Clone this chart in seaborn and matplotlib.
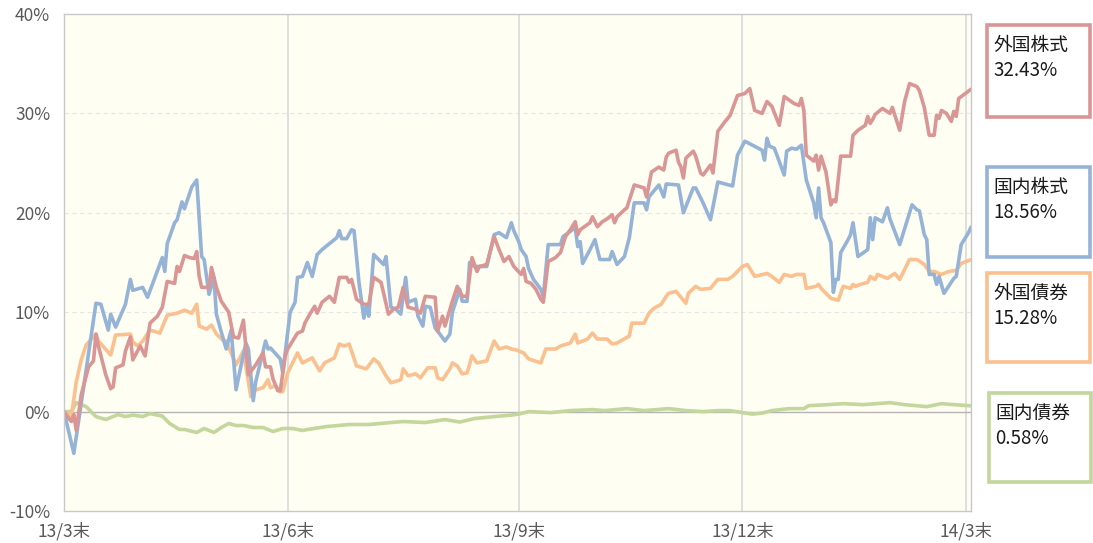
import matplotlib
matplotlib.use("Agg")
import matplotlib.pyplot as plt
import pandas as pd
import seaborn as sns
from matplotlib.patches import Rectangle

# ---------------- data ----------------
start_date = "2013-03-29"
series_names = ["外国株式", "国内株式", "外国債券", "国内債券"]
final_labels = ["32.43%", "18.56%", "15.28%", "0.58%"]
tick_dates = ["2013-03-29", "2013-06-28", "2013-09-30", "2013-12-30", "2014-03-31"]
tick_labels = ["13/3末", "13/6末", "13/9末", "13/12末", "14/3末"]
y_ticks = [-10, 0, 10, 20, 30, 40]

# 外国株式 (days since start, cumulative return %)
days_foreign_stock = [0, 2, 3, 4, 5, 7, 10, 12, 13, 14, 17, 19, 20, 21, 24, 25, 27, 28, 31, 33,
                      35, 38, 40, 42, 45, 46, 47, 49, 51, 53, 54, 55, 56, 59, 60, 62, 64, 67, 69, 71,
                      73, 75, 78, 81, 82, 84, 85, 87, 88, 90, 91, 95, 97, 98, 100, 102, 103, 105, 108, 110,
                      111, 112, 115, 116, 117, 119, 122, 124, 126, 129, 132, 134, 136, 138, 140, 143, 145, 147, 151, 152,
                      154, 155, 158, 160, 162, 164, 166, 168, 169, 172, 175, 177, 179, 181, 183, 186, 187, 188, 190, 192,
                      194, 195, 197, 200, 202, 204, 206, 208, 209, 210, 214, 215, 217, 219, 221, 223, 224, 225, 228, 229,
                      232, 236, 237, 239, 242, 244, 245, 246, 249, 250, 251, 252, 253, 256, 257, 259, 260, 263, 264, 266,
                      269, 271, 274, 277, 279, 281, 284, 286, 288, 291, 293, 297, 299, 300, 301, 302, 305, 306, 307, 308,
                      310, 312, 313, 314, 316, 320, 321, 323, 326, 327, 328, 329, 330, 333, 336, 337, 340, 342, 344, 347,
                      348, 350, 352, 354, 355, 356, 357, 359, 361, 362, 363, 364, 369]
vals_foreign_stock = [0.0, -0.7, -1.0, -0.3, -1.9, 1.7, 4.5, 5.1, 7.8, 6.6, 3.7, 2.3, 2.5, 4.4, 4.7, 6.1, 7.5, 5.2, 6.6, 5.6,
                      8.9, 9.6, 10.5, 13.1, 12.9, 14.6, 14.1, 15.7, 15.5, 15.4, 16.1, 13.6, 12.5, 12.5, 14.5, 12.5, 11.1, 10.0, 7.5, 7.4,
                      9.2, 3.7, 4.7, 5.9, 4.5, 4.5, 3.3, 2.1, 2.1, 5.6, 6.3, 7.9, 8.1, 8.9, 9.8, 10.6, 9.9, 11.0, 11.6, 11.0,
                      12.3, 13.5, 13.5, 13.0, 13.3, 11.3, 10.8, 10.8, 13.5, 13.0, 9.8, 10.3, 10.5, 12.5, 10.5, 10.3, 9.9, 11.6, 11.5, 8.1,
                      9.6, 8.6, 11.1, 12.6, 11.6, 11.6, 15.5, 14.1, 14.6, 14.8, 17.6, 16.3, 15.1, 15.6, 14.6, 13.8, 14.4, 13.1, 12.9, 12.3,
                      11.3, 11.0, 15.1, 15.5, 16.0, 17.6, 18.3, 19.1, 17.8, 18.3, 19.0, 19.6, 18.6, 19.1, 19.4, 19.8, 19.0, 19.6, 20.3, 20.5,
                      22.8, 22.5, 21.6, 24.1, 24.6, 24.3, 25.6, 26.0, 26.3, 25.1, 24.6, 23.5, 25.5, 26.2, 25.7, 24.0, 23.8, 24.8, 24.0, 28.2,
                      29.2, 29.8, 31.8, 32.0, 32.5, 30.3, 30.0, 31.2, 30.7, 28.8, 31.7, 31.0, 30.8, 31.5, 30.3, 25.8, 25.2, 25.8, 24.3, 25.7,
                      24.1, 20.8, 21.3, 21.1, 25.7, 25.7, 27.8, 28.3, 28.8, 29.7, 29.0, 29.4, 29.9, 30.5, 30.0, 30.6, 28.3, 31.2, 33.0, 32.7,
                      32.3, 30.6, 27.8, 27.8, 29.8, 29.5, 30.3, 30.0, 29.2, 30.2, 29.7, 31.5, 32.43]

# 国内株式
days_domestic_stock = [0, 4, 13, 15, 18, 19, 21, 25, 27, 28, 32, 34, 40, 41, 42, 45, 46, 48, 49, 52,
                       54, 56, 57, 59, 61, 62, 64, 66, 68, 70, 72, 74, 75, 77, 78, 82, 83, 84, 88, 89,
                       92, 94, 95, 97, 99, 101, 103, 105, 111, 112, 113, 115, 117, 118, 120, 122, 123, 124, 126, 128,
                       130, 131, 133, 135, 137, 139, 140, 143, 144, 146, 147, 149, 151, 152, 155, 157, 158, 161, 162, 164,
                       165, 167, 172, 175, 177, 180, 182, 183, 185, 186, 188, 189, 191, 194, 195, 197, 202, 203, 208, 209,
                       210, 211, 214, 216, 218, 222, 223, 225, 228, 230, 232, 236, 237, 238, 242, 244, 245, 250, 252, 256,
                       257, 260, 263, 266, 272, 274, 277, 284, 285, 286, 287, 289, 293, 294, 296, 298, 300, 302, 305, 306,
                       307, 308, 309, 312, 313, 314, 315, 316, 319, 320, 321, 323, 327, 328, 329, 330, 333, 335, 336, 340,
                       345, 347, 348, 350, 351, 352, 354, 355, 356, 358, 362, 363, 365, 368, 369]
vals_domestic_stock = [0.0, -4.2, 10.9, 10.8, 8.2, 9.8, 8.5, 10.8, 13.3, 12.2, 12.5, 11.5, 15.5, 14.1, 16.9, 19.0, 19.3, 21.1, 20.4, 22.6,
                       23.3, 15.6, 15.3, 11.8, 13.5, 9.8, 8.0, 6.3, 8.2, 2.2, 4.6, 6.9, 6.3, 1.1, 3.0, 7.1, 6.3, 6.4, 5.3, 3.9,
                       10.0, 11.0, 13.5, 13.6, 15.0, 13.6, 15.8, 16.3, 17.5, 18.2, 17.4, 17.4, 18.3, 18.2, 13.0, 9.4, 10.6, 9.6, 15.8, 15.3,
                       14.8, 15.6, 10.5, 10.3, 9.8, 13.5, 11.0, 11.3, 9.6, 8.6, 10.6, 10.5, 8.4, 8.1, 7.1, 7.8, 10.0, 12.3, 11.1, 11.1,
                       15.0, 14.6, 14.6, 17.8, 18.0, 17.5, 19.0, 18.2, 17.1, 16.3, 15.6, 14.4, 13.3, 12.3, 11.6, 16.8, 16.8, 17.6, 18.5, 16.6,
                       17.1, 14.9, 16.3, 17.3, 15.3, 15.3, 16.1, 14.8, 15.6, 17.5, 21.0, 21.0, 20.3, 21.6, 22.8, 21.6, 22.9, 22.8, 20.0, 22.5,
                       22.5, 21.0, 19.3, 23.1, 22.7, 25.8, 27.2, 26.3, 25.3, 27.5, 26.7, 26.5, 23.8, 26.2, 26.5, 26.4, 26.8, 23.3, 21.0, 19.5,
                       22.5, 19.5, 19.0, 17.0, 12.0, 13.3, 13.3, 16.0, 17.3, 17.8, 19.0, 15.6, 16.3, 19.5, 17.3, 19.5, 19.1, 20.5, 19.4, 16.8,
                       20.8, 20.3, 20.2, 17.8, 17.3, 13.8, 13.8, 12.8, 13.6, 11.9, 13.4, 13.6, 16.8, 18.0, 18.56]

# 外国債券
days_foreign_bond = [0, 3, 5, 7, 9, 13, 14, 19, 21, 27, 28, 30, 32, 35, 39, 42, 46, 49, 52, 54,
                     55, 58, 60, 62, 65, 66, 70, 73, 76, 78, 81, 83, 84, 86, 88, 89, 91, 93, 95, 97,
                     101, 104, 106, 110, 112, 114, 116, 117, 119, 123, 126, 128, 131, 133, 137, 138, 140, 143, 145, 148,
                     151, 152, 154, 157, 158, 160, 162, 164, 166, 168, 172, 173, 175, 177, 180, 182, 184, 187, 189, 194,
                     196, 200, 202, 206, 208, 209, 213, 215, 217, 221, 223, 225, 230, 231, 236, 238, 240, 243, 245, 246,
                     249, 253, 254, 257, 259, 263, 266, 270, 272, 276, 278, 281, 286, 288, 291, 293, 296, 298, 301, 302,
                     306, 307, 308, 310, 312, 315, 317, 320, 321, 322, 324, 327, 328, 330, 331, 335, 338, 340, 344, 347,
                     350, 352, 354, 357, 360, 363, 365, 367, 369]
vals_foreign_bond = [0.0, -0.5, 3.0, 5.2, 6.7, 7.8, 7.1, 5.7, 7.7, 7.8, 7.0, 6.6, 7.1, 8.2, 7.9, 9.7, 9.9, 10.2, 9.9, 10.8,
                     8.6, 8.3, 8.7, 7.8, 7.1, 7.1, 4.7, 6.1, 1.5, 2.2, 2.4, 3.2, 2.4, 2.6, 2.0, 2.0, 3.9, 4.9, 5.9, 4.9,
                     5.4, 4.1, 4.9, 5.4, 6.8, 6.6, 6.8, 6.1, 4.6, 4.3, 5.3, 4.9, 3.6, 2.9, 3.2, 4.3, 3.6, 3.8, 3.4, 4.4,
                     4.4, 3.4, 3.2, 4.3, 4.9, 4.6, 3.8, 3.9, 5.6, 4.9, 5.1, 5.8, 7.1, 6.3, 6.5, 6.3, 6.2, 5.9, 5.3, 4.9,
                     6.3, 6.3, 6.6, 6.9, 7.8, 6.9, 7.3, 7.9, 7.3, 7.3, 6.8, 6.9, 7.6, 8.9, 8.9, 9.9, 10.4, 10.8, 11.6, 11.9,
                     12.1, 10.9, 11.9, 12.6, 12.3, 12.4, 13.3, 13.3, 13.6, 14.6, 14.8, 13.6, 13.9, 13.6, 13.0, 13.8, 13.6, 13.8, 13.8, 12.4,
                     12.6, 12.8, 12.4, 11.9, 11.4, 11.2, 12.6, 12.4, 12.8, 12.6, 12.8, 13.0, 13.6, 13.3, 13.8, 13.4, 13.9, 13.3, 15.3, 15.3,
                     14.8, 14.1, 14.1, 13.8, 14.1, 14.2, 14.9, 15.1, 15.28]

# 国内債券
days_domestic_bond = [0, 3, 5, 9, 13, 17, 22, 25, 28, 32, 35, 40, 43, 47, 49, 54, 57, 61, 64, 67,
                      70, 73, 77, 81, 85, 89, 93, 97, 99, 107, 116, 124, 133, 138, 147, 155, 161, 167, 175, 182,
                      185, 189, 198, 206, 215, 220, 229, 236, 246, 253, 260, 266, 271, 276, 280, 284, 288, 295, 301, 303,
                      311, 317, 325, 336, 342, 351, 357, 362, 369]
vals_domestic_bond = [0.0, 0.0, 0.9, 0.5, -0.5, -0.8, -0.3, -0.5, -0.35, -0.5, -0.2, -0.45, -1.2, -1.8, -1.8, -2.1, -1.7, -2.1, -1.6, -1.2,
                      -1.4, -1.4, -1.6, -1.6, -2.0, -1.7, -1.7, -1.9, -1.8, -1.5, -1.3, -1.3, -1.1, -1.0, -1.1, -0.8, -1.05, -0.7, -0.5, -0.35,
                      -0.25, 0.0, -0.1, 0.1, 0.2, 0.1, 0.3, 0.1, 0.3, 0.1, 0.0, 0.1, 0.1, -0.1, -0.25, -0.15, 0.1, 0.3, 0.3, 0.6,
                      0.7, 0.8, 0.7, 0.9, 0.7, 0.5, 0.8, 0.7, 0.58]

# ---------------- style ----------------
colors = {"外国株式": "#d99694", "国内株式": "#95b3d7", "外国債券": "#fac08f", "国内債券": "#c3d69b"}

sns.set_theme(style="white")
plt.rcParams["font.family"] = ["Noto Sans CJK JP", "DejaVu Sans"]
plt.rcParams["axes.unicode_minus"] = False

# ---------------- build long table ----------------
start = pd.Timestamp(start_date)
frames = []
for name, d, v in [("外国株式", days_foreign_stock, vals_foreign_stock),
                   ("国内株式", days_domestic_stock, vals_domestic_stock),
                   ("外国債券", days_foreign_bond, vals_foreign_bond),
                   ("国内債券", days_domestic_bond, vals_domestic_bond)]:
    frames.append(pd.DataFrame({"date": start + pd.to_timedelta(d, unit="D"),
                                "value": v, "series": name}))
df = pd.concat(frames, ignore_index=True)

W, H = 1093, 543
fig = plt.figure(figsize=(W / 100, H / 100), dpi=100)
fig.patch.set_facecolor("white")
ax = fig.add_axes([64 / W, 1 - 511 / H, (971 - 64) / W, (511 - 14) / H])
ax.set_facecolor("#fffef3")

# grid
for v in [10, 20, 30]:
    ax.axhline(v, color="#e6e6e6", lw=0.8, ls=(0, (4, 3)), zorder=0.5)
for d in tick_dates[1:]:
    ax.axvline(pd.Timestamp(d), color="#d9d9d9", lw=1.2, zorder=0.5)
ax.axhline(0, color="#b4b4b4", lw=1.0, zorder=0.8)

draw_order = ["国内債券", "外国債券", "国内株式", "外国株式"]
sns.lineplot(data=df, x="date", y="value", hue="series", hue_order=draw_order,
             palette=colors, estimator=None, linewidth=2.6, legend=False, ax=ax,
             solid_joinstyle="round", solid_capstyle="round")

ax.set_xlim(start, start + pd.Timedelta(days=369))
ax.set_ylim(-10, 40)
ax.set_xticks(pd.to_datetime(tick_dates))
ax.set_xticklabels(tick_labels)
ax.set_yticks(y_ticks)
ax.set_yticklabels([f"{t}%" for t in y_ticks])
ax.set_xlabel("")
ax.set_ylabel("")
ax.tick_params(axis="both", length=0, labelsize=12.5, colors="#595959")
ax.tick_params(axis="y", pad=10)
ax.tick_params(axis="x", pad=8)
for s in ax.spines.values():
    s.set_color("#c8c8c8")
    s.set_linewidth(1.0)

# ---------------- right-hand label boxes ----------------
boxes = [(987, 25, 1090, 117), (987, 167, 1090, 257), (987, 273, 1090, 362), (989, 393, 1091, 482)]
for (x0, y0, x1, y1), name, lab in zip(boxes, series_names, final_labels):
    rect = Rectangle((x0 / W, 1 - y1 / H), (x1 - x0) / W, (y1 - y0) / H,
                     transform=fig.transFigure, facecolor="white",
                     edgecolor=colors[name], linewidth=2.6)
    fig.add_artist(rect)
    fig.text((x0 + 6) / W, 1 - (y0 + 20) / H, name, ha="left", va="center",
             fontsize=13.5, color="#1a1a1a")
    fig.text((x0 + 6) / W, 1 - (y0 + 45) / H, lab, ha="left", va="center",
             fontsize=13.5, color="#1a1a1a")

fig.savefig("out.png", dpi=100)
